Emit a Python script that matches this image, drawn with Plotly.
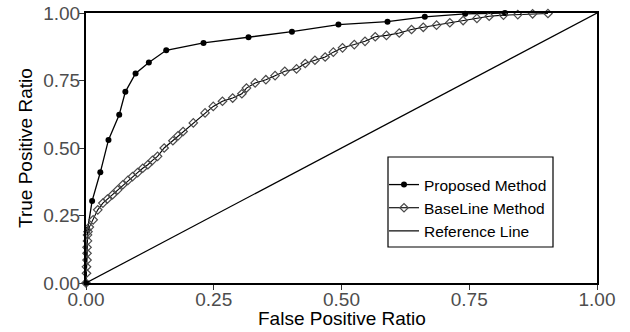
import plotly.graph_objects as go

# ---- data ----
proposed_fpr = [0, 0.003, 0.012, 0.028, 0.044, 0.065, 0.077, 0.097, 0.123, 0.157,
                0.230, 0.318, 0.403, 0.494, 0.590, 0.663, 0.742, 0.820]
proposed_tpr = [0, 0.197, 0.304, 0.410, 0.530, 0.623, 0.708, 0.776, 0.817, 0.862,
                0.889, 0.910, 0.931, 0.957, 0.968, 0.986, 0.997, 1.000]

baseline_fpr = [0, 0.001, 0.001, 0.002, 0.002, 0.002, 0.003, 0.003, 0.004, 0.0065,
                0.014, 0.023, 0.033, 0.042, 0.052, 0.062, 0.072, 0.082, 0.091, 0.101,
                0.111, 0.121, 0.130, 0.140, 0.153, 0.170, 0.180, 0.190, 0.210, 0.233,
                0.249, 0.267, 0.287, 0.305, 0.314, 0.331, 0.352, 0.370, 0.389, 0.412,
                0.429, 0.448, 0.468, 0.484, 0.502, 0.525, 0.546, 0.566, 0.588, 0.613,
                0.637, 0.660, 0.686, 0.712, 0.738, 0.765, 0.789, 0.817, 0.845, 0.874,
                0.904]
baseline_tpr = [0, 0.036, 0.060, 0.085, 0.110, 0.132, 0.156, 0.178, 0.190, 0.207,
                0.234, 0.271, 0.296, 0.311, 0.327, 0.345, 0.364, 0.380, 0.394, 0.409,
                0.425, 0.438, 0.454, 0.469, 0.500, 0.527, 0.545, 0.561, 0.593, 0.630,
                0.654, 0.673, 0.685, 0.701, 0.722, 0.741, 0.753, 0.768, 0.784, 0.793,
                0.813, 0.825, 0.837, 0.855, 0.871, 0.883, 0.895, 0.912, 0.917, 0.926,
                0.939, 0.947, 0.955, 0.964, 0.972, 0.980, 0.988, 0.992, 0.994, 0.997,
                0.998]

reference_x = [0, 1]
reference_y = [0, 1]

tick_vals = [0, 0.25, 0.5, 0.75, 1.0]
tick_text = ["0.00", "0.25", "0.50", "0.75", "1.00"]

names = ["Proposed Method", "BaseLine Method", "Reference Line"]
x_title = "False Positive Ratio"
y_title = "True Positive Ratio"

FONT = "Liberation Sans, Arial, Helvetica, sans-serif"

# plot-area geometry in screen pixels
L, R, T, B = 86, 597, 13, 283
PW, PH = R - L, B - T

fig = go.Figure()
fig.add_trace(go.Scatter(
    x=proposed_fpr, y=proposed_tpr, name=names[0], mode="lines+markers",
    line=dict(color="black", width=1.3),
    marker=dict(symbol="circle", size=6, color="black"),
    cliponaxis=False))
fig.add_trace(go.Scatter(
    x=baseline_fpr, y=baseline_tpr, name=names[1], mode="lines+markers",
    line=dict(color="black", width=1.1),
    marker=dict(symbol="diamond-open", size=6.5, color="#4A4A4A",
                line=dict(width=1.2, color="#4A4A4A")),
    cliponaxis=False))
fig.add_trace(go.Scatter(
    x=reference_x, y=reference_y, name=names[2], mode="lines",
    line=dict(color="black", width=1.2), cliponaxis=False))

axis_common = dict(
    range=[0, 1], tickvals=tick_vals, ticktext=tick_text,
    showgrid=False, zeroline=False, automargin=False,
    showline=True, linecolor="black", linewidth=2, mirror=True,
    ticks="outside", ticklen=5, tickwidth=1.3, tickcolor="#333333",
    ticklabeloverflow="allow",
    tickfont=dict(family=FONT, size=19, color="#4D4D4D"),
)

fig.update_layout(
    width=630, height=332,
    margin=dict(l=L, r=630 - R, t=T, b=332 - B, autoexpand=False),
    paper_bgcolor="white", plot_bgcolor="white",
    font=dict(family=FONT, color="black"),
    showlegend=True,
    legend=dict(
        x=(384 - L) / PW, y=(B - 168) / PH, xanchor="left", yanchor="top",
        bgcolor="rgba(0,0,0,0)", borderwidth=0,
        font=dict(family=FONT, size=15.5, color="black"),
        tracegroupgap=0, itemwidth=30,
    ),
    xaxis=dict(axis_common, ticklabelstandoff=-7),
    yaxis=dict(axis_common, ticklabelstandoff=-5),
)

# axis titles
fig.add_annotation(text=x_title, xref="paper", yref="paper",
                   x=0.5, y=(B - 318) / PH, xanchor="center", yanchor="middle",
                   showarrow=False, font=dict(family=FONT, size=19, color="black"))
fig.add_annotation(text=y_title, xref="paper", yref="paper",
                   x=(25 - L) / PW, y=0.5, xanchor="center", yanchor="middle",
                   textangle=-90, showarrow=False,
                   font=dict(family=FONT, size=19, color="black"))

# legend frame
fig.add_shape(type="rect", xref="paper", yref="paper",
              x0=(388 - L) / PW, x1=(553 - L) / PW,
              y0=(B - 247) / PH, y1=(B - 157) / PH,
              line=dict(color="black", width=1.2), fillcolor="rgba(0,0,0,0)")

fig.write_html("out.html",
               config={"displayModeBar": False},
               post_script="document.body.style.margin='0';"
                           "document.body.style.overflow='hidden';")
